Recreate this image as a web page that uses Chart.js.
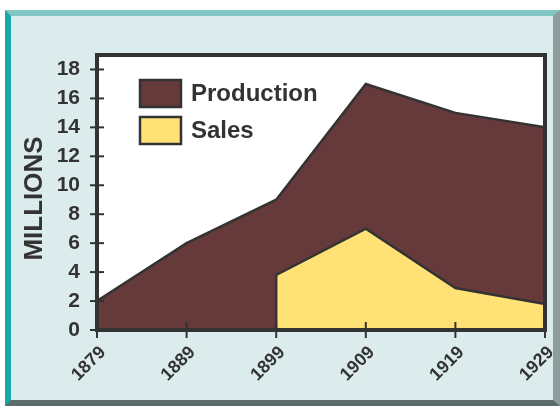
<!DOCTYPE html>
<html>
<head>
<meta charset="utf-8">
<script src="https://cdn.jsdelivr.net/npm/chart.js@4/dist/chart.umd.min.js"></script>
<style>
  html, body { margin: 0; padding: 0; background: #ffffff; }
  #panel {
    position: absolute; left: 5px; top: 10px; width: 555px; height: 396px;
    box-sizing: border-box; background: #dcecec;
    border-left: 6px solid #17a8a8; border-top: 6px solid #80c6c3;
    border-right: 7px solid #8d9c9c; border-bottom: 6px solid #5d6b6b;
  }
  #wrap { position: absolute; left: 0; top: 0; width: 560px; height: 406px; }
</style>
</head>
<body>
<div id="panel"></div>
<div id="wrap"><canvas id="c" width="560" height="406"></canvas></div>
<script>
const years = [1879, 1889, 1899, 1909, 1919, 1929];
const production = [2, 6, 9, 17, 15, 14];
const salesYears = [1899, 1899, 1909, 1919, 1929];
const sales = [0, 3.8, 7, 2.9, 1.8];
const yTicks = [0, 2, 4, 6, 8, 10, 12, 14, 16, 18];
const seriesNames = ['Production', 'Sales'];
const yTitle = 'MILLIONS';

const INK = '#333333';
const FONT = "'Liberation Sans', Arial, sans-serif";

const framePlugin = {
  id: 'frame',
  beforeDraw(chart) {
    const a = chart.chartArea, ctx = chart.ctx;
    ctx.save();
    ctx.fillStyle = '#ffffff';
    ctx.fillRect(a.left, a.top, a.right - a.left, a.bottom - a.top);
    ctx.restore();
  },
  afterDatasetsDraw(chart) {
    const a = chart.chartArea, ctx = chart.ctx;
    const xs = chart.scales.x, ys = chart.scales.y;
    ctx.save();
    ctx.strokeStyle = INK;
    ctx.lineWidth = 4;
    ctx.strokeRect(a.left, a.top, a.right - a.left, a.bottom - a.top);
    ctx.lineWidth = 2;
    yTicks.forEach(v => {
      const py = ys.getPixelForValue(v);
      ctx.beginPath(); ctx.moveTo(a.left - 7, py); ctx.lineTo(a.left + 7, py); ctx.stroke();
    });
    years.forEach(v => {
      const px = xs.getPixelForValue(v);
      ctx.beginPath(); ctx.moveTo(px, a.bottom - 8); ctx.lineTo(px, a.bottom + 8); ctx.stroke();
    });
    // legend
    ctx.font = "bold 24px " + FONT;
    ctx.textBaseline = 'middle';
    ctx.textAlign = 'left';
    chart.data.datasets.forEach((ds) => {
      const idx = seriesNames.indexOf(ds.label);
      const bx = a.left + 43, by = a.top + 25 + idx * 37;
      ctx.fillStyle = ds.backgroundColor;
      ctx.fillRect(bx, by, 41, 27);
      ctx.lineWidth = 2.5;
      ctx.strokeStyle = INK;
      ctx.strokeRect(bx, by, 41, 27);
      ctx.fillStyle = INK;
      ctx.fillText(ds.label, bx + 51, by + 14);
    });
    // y axis title
    ctx.save();
    ctx.translate(34, (a.top + a.bottom) / 2 + 6);
    ctx.rotate(-Math.PI / 2);
    ctx.font = "bold 26px " + FONT;
    ctx.textAlign = 'center';
    ctx.textBaseline = 'middle';
    ctx.fillStyle = INK;
    ctx.fillText(yTitle, 0, 1);
    ctx.restore();
    ctx.restore();
  }
};

new Chart(document.getElementById('c'), {
  type: 'line',
  data: {
    datasets: [
      {
        label: seriesNames[0],
        data: years.map((y, i) => ({ x: y, y: production[i] })),
        backgroundColor: '#66393b',
        borderColor: INK,
        borderWidth: 2.5,
        fill: 'origin',
        pointRadius: 0,
        tension: 0,
        order: 2
      },
      {
        label: seriesNames[1],
        data: salesYears.map((y, i) => ({ x: y, y: sales[i] })),
        backgroundColor: '#ffe176',
        borderColor: INK,
        borderWidth: 2.5,
        fill: 'origin',
        pointRadius: 0,
        tension: 0,
        order: 1
      }
    ]
  },
  options: {
    responsive: false,
    animation: false,
    events: [],
    layout: { padding: { left: 0, top: 55, right: 15, bottom: 0 } },
    plugins: { legend: { display: false }, tooltip: { enabled: false } },
    scales: {
      x: {
        type: 'linear',
        min: years[0],
        max: years[years.length - 1],
        afterBuildTicks(scale) { scale.ticks = years.map(v => ({ value: v })); },
        afterFit(scale) { scale.height = 76; scale.paddingLeft = 0; scale.paddingRight = 0; },
        grid: { display: false, drawTicks: false },
        border: { display: false },
        ticks: {
          autoSkip: false,
          minRotation: 45, maxRotation: 45,
          padding: 12,
          labelOffset: 6,
          color: INK,
          font: { family: FONT, size: 18, weight: 'bold' },
          callback: v => String(v)
        }
      },
      y: {
        min: 0, max: 19,
        afterBuildTicks(scale) { scale.ticks = yTicks.map(v => ({ value: v })); },
        afterFit(scale) { scale.width = 97; scale.paddingTop = 0; scale.paddingBottom = 0; },
        grid: { display: false, drawTicks: false },
        border: { display: false },
        ticks: {
          padding: 17,
          color: INK,
          font: { family: FONT, size: 21, weight: 'bold' }
        }
      }
    }
  },
  plugins: [framePlugin]
});
</script>
</body>
</html>
